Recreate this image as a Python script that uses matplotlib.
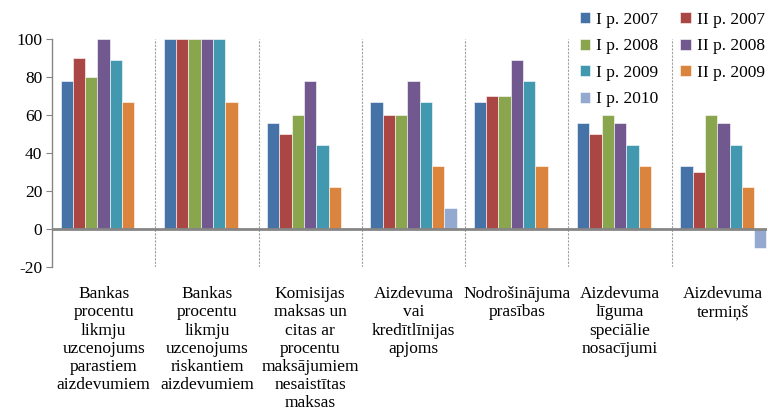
import numpy as np
import matplotlib
matplotlib.use("Agg")
import matplotlib.pyplot as plt

categories = [
    "Bankas\nprocentu\nlikmju\nuzcenojums\nparastiem\naizdevumiem",
    "Bankas\nprocentu\nlikmju\nuzcenojums\nriskantiem\naizdevumiem",
    "Komisijas\nmaksas un\ncitas ar\nprocentu\nmaksājumiem\nnesaistītas\nmaksas",
    "Aizdevuma\nvai\nkredītlīnijas\napjoms",
    "Nodrošinājuma\nprasības",
    "Aizdevuma\nlīguma\nspeciālie\nnosacījumi",
    "Aizdevuma\ntermiņš",
]
series_names = ["I p. 2007", "II p. 2007", "I p. 2008", "II p. 2008",
                "I p. 2009", "II p. 2009", "I p. 2010"]
s_2007_1 = [77.8, 100, 55.6, 66.7, 66.7, 55.6, 33.3]
s_2007_2 = [90, 100, 50, 60, 70, 50, 30]
s_2008_1 = [80, 100, 60, 60, 70, 60, 60]
s_2008_2 = [100, 100, 77.8, 77.8, 88.9, 55.6, 55.6]
s_2009_1 = [88.9, 100, 44.4, 66.7, 77.8, 44.4, 44.4]
s_2009_2 = [66.7, 66.7, 22.2, 33.3, 33.3, 33.3, 22.2]
s_2010_1 = [np.nan, np.nan, np.nan, 11.1, np.nan, np.nan, -10]
series = [s_2007_1, s_2007_2, s_2008_1, s_2008_2, s_2009_1, s_2009_2, s_2010_1]
colors = ["#4572A7", "#AA4643", "#89A54E", "#71588F", "#4198AF", "#DB843D", "#93A9CF"]
yticks = [-20, 0, 20, 40, 60, 80, 100]

plt.rcParams["font.family"] = ["Liberation Serif", "DejaVu Serif"]

W, H = 767, 412
fig = plt.figure(figsize=(W / 100, H / 100), dpi=100)
left, right, top, bottom = 52, 775, 39, 267
ax = fig.add_axes([left / W, 1 - bottom / H, (right - left) / W, (bottom - top) / H])

n = len(series)
x = np.arange(len(categories))
bw = 0.119
handles = []
for i, (vals, c, name) in enumerate(zip(series, colors, series_names)):
    h = ax.bar(x + (i - (n - 1) / 2) * bw, vals, width=bw, color=c, label=name,
               edgecolor="white", linewidth=0.4, zorder=2)
    handles.append(h)

ax.set_xlim(-0.5, len(categories) - 0.5)
ax.set_ylim(-20, 100)
ax.set_yticks(yticks)
ax.set_yticklabels([str(v) for v in yticks], fontsize=12.5)

for s in ["top", "right", "bottom"]:
    ax.spines[s].set_visible(False)
ax.spines["left"].set_color("#868686")
ax.spines["left"].set_linewidth(1.0)
ax.tick_params(axis="y", direction="out", length=4, color="#868686", pad=3)

ax.axhline(0, color="#868686", linewidth=2, zorder=3)
for b in np.arange(0.5, len(categories) - 0.5, 1):
    ax.axvline(b, color="#a0a0a0", linewidth=0.8, linestyle=(0, (2, 1.2)), zorder=1)

ax.set_xticks(x)
ax.set_xticklabels(categories, fontsize=12.5, linespacing=1.17, va="top")
ax.tick_params(axis="x", length=0, pad=14)

order = [0, 2, 4, 6, 1, 3, 5]
leg = fig.legend([handles[i] for i in order], [series_names[i] for i in order],
                 loc="upper left", bbox_to_anchor=(580 / W, 1 - 12 / H), ncol=2,
                 frameon=False, fontsize=12.5, handlelength=0.6, handleheight=0.6,
                 handletextpad=0.35, columnspacing=1.25, labelspacing=0.6,
                 borderpad=0, borderaxespad=0)

fig.savefig("out.png", dpi=100)
